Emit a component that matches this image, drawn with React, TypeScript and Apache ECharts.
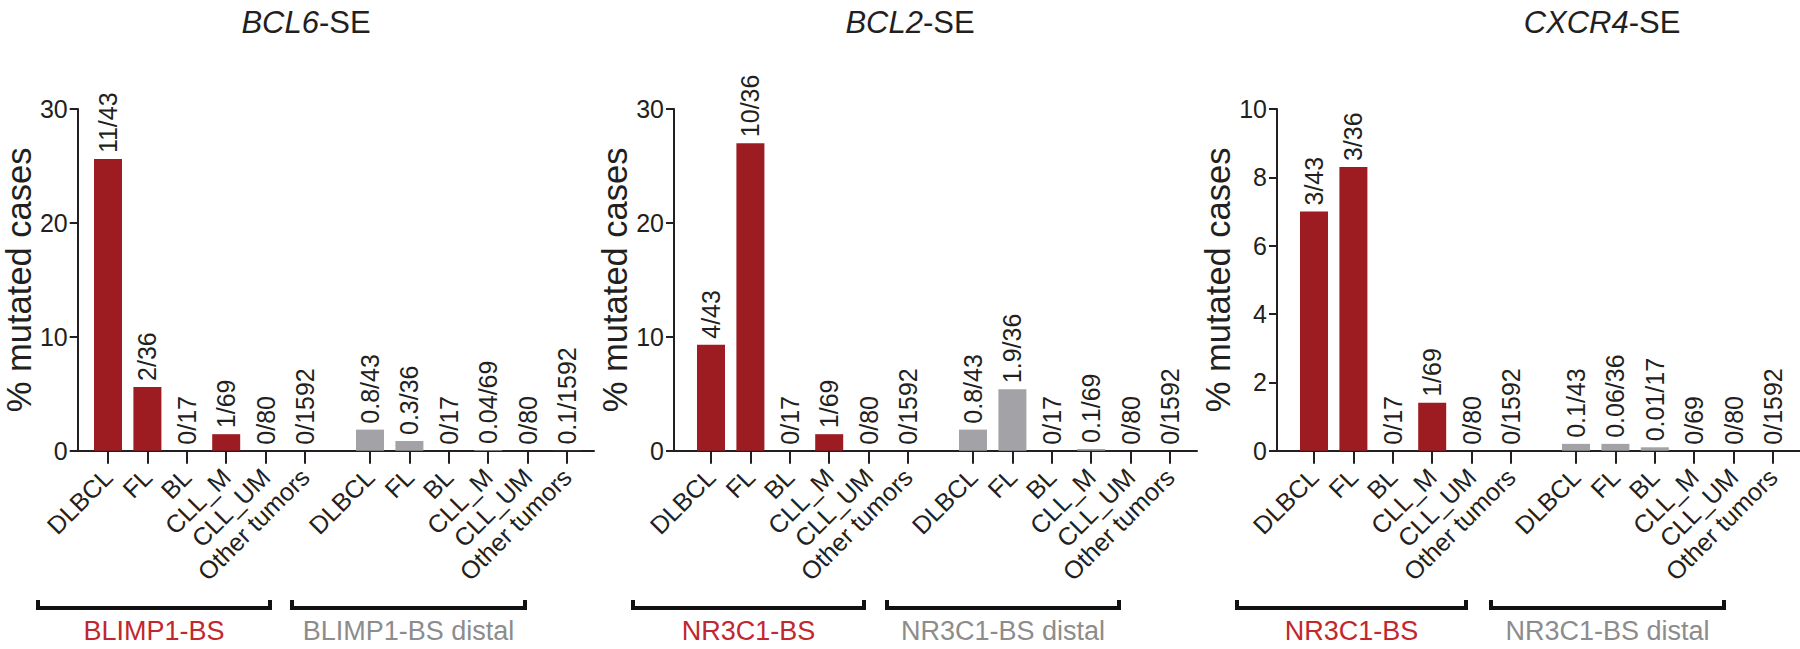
import React, { useEffect, useRef } from "react";
import * as echarts from "echarts";

const categories = ["DLBCL", "FL", "BL", "CLL_M", "CLL_UM", "Other tumors"];

const bcl6Bs = [25.6, 5.6, 0, 1.45, 0, 0];
const bcl6BsLabels = ["11/43", "2/36", "0/17", "1/69", "0/80", "0/1592"];
const bcl6Distal = [1.85, 0.85, 0, 0.06, 0, 0.01];
const bcl6DistalLabels = ["0.8/43", "0.3/36", "0/17", "0.04/69", "0/80", "0.1/1592"];

const bcl2Bs = [9.3, 27.0, 0, 1.45, 0, 0];
const bcl2BsLabels = ["4/43", "10/36", "0/17", "1/69", "0/80", "0/1592"];
const bcl2Distal = [1.85, 5.4, 0, 0.15, 0, 0];
const bcl2DistalLabels = ["0.8/43", "1.9/36", "0/17", "0.1/69", "0/80", "0/1592"];

const cxcr4Bs = [7.0, 8.3, 0, 1.4, 0, 0];
const cxcr4BsLabels = ["3/43", "3/36", "0/17", "1/69", "0/80", "0/1592"];
const cxcr4Distal = [0.2, 0.2, 0.1, 0, 0, 0];
const cxcr4DistalLabels = ["0.1/43", "0.06/36", "0.01/17", "0/69", "0/80", "0/1592"];

const panelTitles = [
  { gene: "BCL6", suffix: "-SE" },
  { gene: "BCL2", suffix: "-SE" },
  { gene: "CXCR4", suffix: "-SE" },
];
const groupNames = [
  ["BLIMP1-BS", "BLIMP1-BS distal"],
  ["NR3C1-BS", "NR3C1-BS distal"],
  ["NR3C1-BS", "NR3C1-BS distal"],
];
const yMaxes = [30, 30, 10];
const yIntervals = [10, 10, 2];

const FONT = "'Liberation Sans', Arial, Helvetica, sans-serif";
const INK = "#231f20";
const RED = "#9c1c22";
const GRAY = "#a3a3a7";
const RED_TEXT = "#c1272d";
const GRAY_TEXT = "#8c8c8c";

export default function App() {
  const ref = useRef<HTMLDivElement>(null);

  useEffect(() => {
    if (!ref.current) return;
    const chart = echarts.init(ref.current, null, { renderer: "svg" });

    const panels = [
      { bs: bcl6Bs, bsL: bcl6BsLabels, di: bcl6Distal, diL: bcl6DistalLabels },
      { bs: bcl2Bs, bsL: bcl2BsLabels, di: bcl2Distal, diL: bcl2DistalLabels },
      { bs: cxcr4Bs, bsL: cxcr4BsLabels, di: cxcr4Distal, diL: cxcr4DistalLabels },
    ];

    const x0s = [71, 674, 1277];
    const top = 109;
    const height = 341.7;
    const axisW = 523;
    const band = 39.4;
    const groupW = band * 6;

    const grids: any[] = [];
    const xAxes: any[] = [];
    const yAxes: any[] = [];
    const series: any[] = [];
    const titles: any[] = [];

    const titleCenters = [301, 905, 1597];

    panels.forEach((p, pi) => {
      const x0 = x0s[pi];
      const base = grids.length;
      grids.push({ left: x0, top, width: axisW, height });
      grids.push({ left: x0 + 37 - band / 2, top, width: groupW, height });
      grids.push({ left: x0 + 299 - band / 2, top, width: groupW, height });

      xAxes.push({
        type: "value",
        gridIndex: base,
        min: 0,
        max: 1,
        axisLine: { show: true, lineStyle: { color: INK, width: 2 } },
        axisTick: { show: false },
        axisLabel: { show: false },
        splitLine: { show: false },
      });
      yAxes.push({
        type: "value",
        gridIndex: base,
        min: 0,
        max: yMaxes[pi],
        interval: yIntervals[pi],
        name: "% mutated cases",
        nameLocation: "middle",
        nameGap: 38,
        nameTextStyle: { fontFamily: FONT, fontSize: 34.5, color: INK },
        axisLine: { show: true, lineStyle: { color: INK, width: 2 } },
        axisTick: { show: true, length: 8, lineStyle: { color: INK, width: 2 } },
        axisLabel: { fontFamily: FONT, fontSize: 25, color: INK, margin: 10 },
        splitLine: { show: false },
      });

      [1, 2].forEach((gi) => {
        xAxes.push({
          type: "category",
          gridIndex: base + gi,
          data: categories,
          axisLine: { show: false },
          axisTick: {
            show: true,
            alignWithLabel: true,
            length: 13,
            lineStyle: { color: INK, width: 2 },
          },
          axisLabel: {
            rotate: 45,
            interval: 0,
            fontFamily: FONT,
            fontSize: 25,
            color: INK,
            margin: 22,
          },
        });
        yAxes.push({
          type: "value",
          gridIndex: base + gi,
          min: 0,
          max: yMaxes[pi],
          interval: yIntervals[pi],
          show: false,
        });
      });

      const mk = (vals: number[], labs: string[], color: string, idx: number) => ({
        type: "bar",
        xAxisIndex: idx,
        yAxisIndex: idx,
        barWidth: 28,
        data: vals,
        itemStyle: { color },
        label: {
          show: true,
          position: "top",
          rotate: 90,
          align: "left",
          verticalAlign: "middle",
          distance: 6,
          fontFamily: FONT,
          fontSize: 25,
          color: INK,
          formatter: (pr: any) => labs[pr.dataIndex],
        },
      });
      series.push(mk(p.bs, p.bsL, RED, base + 1));
      series.push(mk(p.di, p.diL, GRAY, base + 2));

      titles.push({
        text: `{i|${panelTitles[pi].gene}}{n|${panelTitles[pi].suffix}}`,
        left: titleCenters[pi],
        top: 2,
        textAlign: "center",
        textStyle: {
          fontWeight: "normal",
          rich: {
            i: { fontFamily: FONT, fontSize: 31, fontStyle: "italic", fontWeight: "normal", color: INK },
            n: { fontFamily: FONT, fontSize: 31, fontWeight: "normal", color: INK },
          },
        },
      });
    });

    const brackets = [
      [[38, 270], [292, 525]],
      [[633, 864], [887, 1119]],
      [[1237, 1466], [1491, 1724]],
    ];
    const graphic: any[] = [];
    brackets.forEach((pair, pi) => {
      pair.forEach(([a, b], gi) => {
        graphic.push({
          type: "polyline",
          shape: { points: [[a, 600], [a, 608], [b, 608], [b, 600]] },
          style: { stroke: "#111", lineWidth: 4, fill: null },
        });
        graphic.push({
          type: "text",
          x: (a + b) / 2,
          y: 631,
          style: {
            text: groupNames[pi][gi],
            fontFamily: FONT,
            fontSize: 27,
            fill: gi === 0 ? RED_TEXT : GRAY_TEXT,
            textAlign: "center",
            textVerticalAlign: "middle",
          },
        });
      });
    });

    chart.setOption({
      animation: false,
      backgroundColor: "#ffffff",
      title: titles,
      grid: grids,
      xAxis: xAxes,
      yAxis: yAxes,
      series,
      graphic,
    });

    return () => chart.dispose();
  }, []);

  return (
    <div
      ref={ref}
      style={{ position: "fixed", left: 0, top: 0, width: 1800, height: 649 }}
    />
  );
}
